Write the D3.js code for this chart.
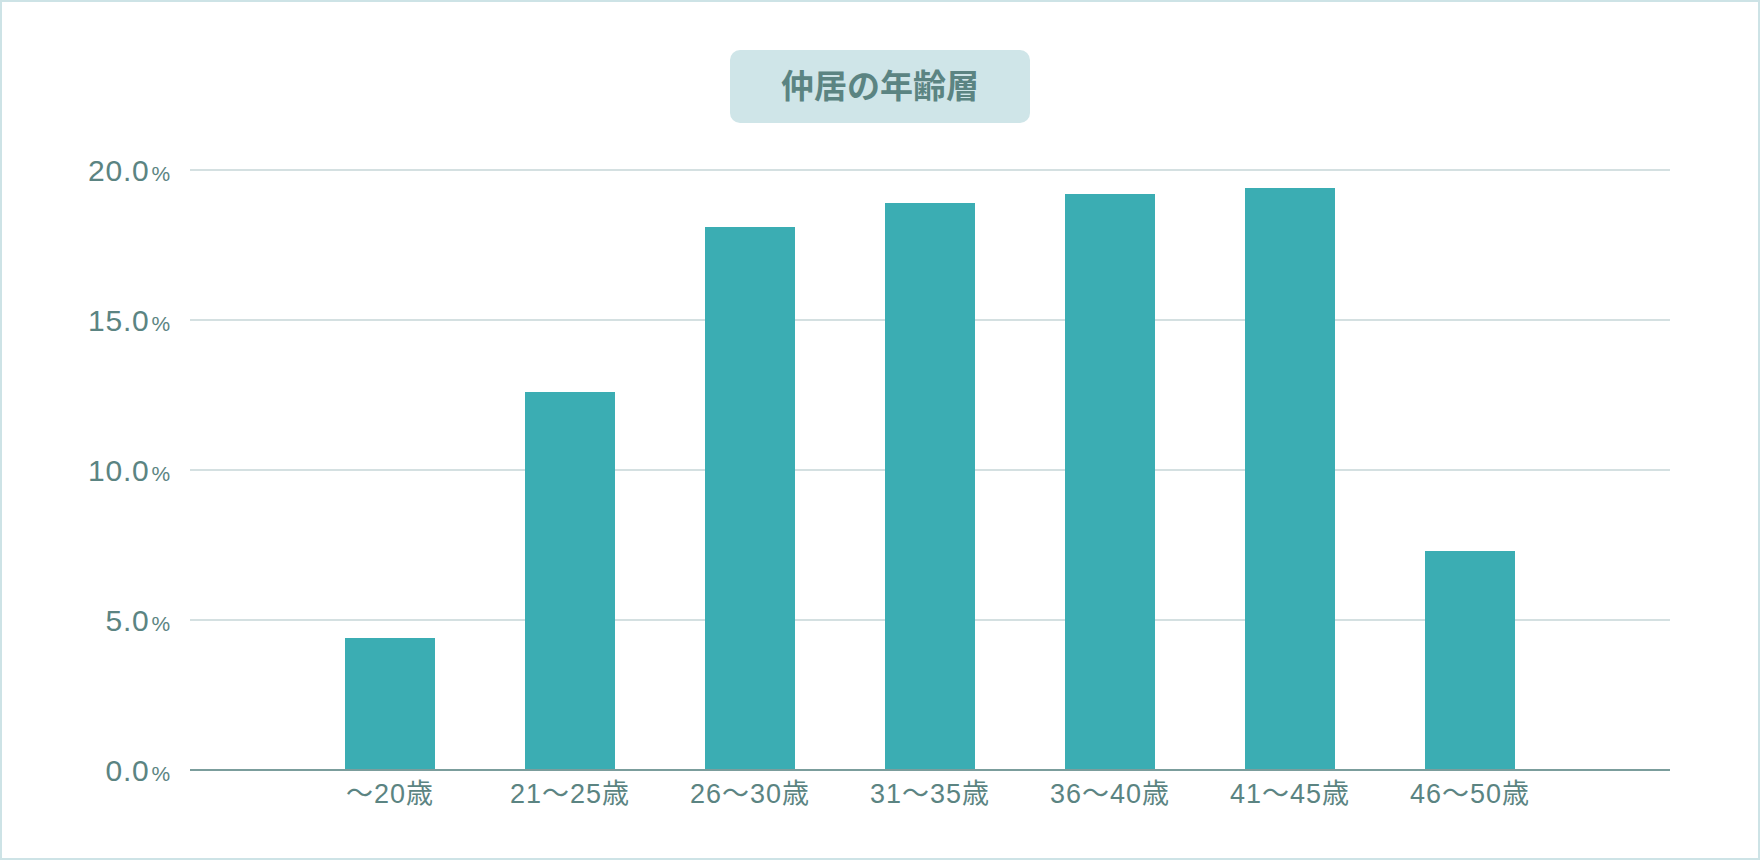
<!DOCTYPE html>
<html><head><meta charset="utf-8">
<script src="https://cdn.jsdelivr.net/npm/d3@7"></script>
<style>
html,body{margin:0;padding:0;background:#fff;}
svg{display:block;}
</style></head>
<body>
<script>
const categories = ["〜20歳","21〜25歳","26〜30歳","31〜35歳","36〜40歳","41〜45歳","46〜50歳"];
const values = [4.4, 12.6, 18.1, 18.9, 19.2, 19.4, 7.3];
const yTicks = [0, 5, 10, 15, 20];
const title = "仲居の年齢層";

const W = 1760, H = 860;
const font = "'Liberation Sans', Arial, 'Noto Sans CJK JP', sans-serif";
const labelColor = "#5b8482";

const svg = d3.select("body").append("svg").attr("width", W).attr("height", H);

// outer border
svg.append("rect").attr("x",1).attr("y",1).attr("width",W-2).attr("height",H-2)
  .attr("fill","#fff").attr("stroke","#cde3e6").attr("stroke-width",2);

const x = d3.scaleBand().domain(categories).range([300,1560]).paddingInner(0.5).paddingOuter(0.25);
const y = d3.scaleLinear().domain([0,20]).range([770,170]);

// gridlines
svg.append("g").selectAll("line").data(yTicks.filter(d=>d>0)).join("line")
  .attr("x1",190).attr("x2",1670)
  .attr("y1",d=>y(d)).attr("y2",d=>y(d))
  .attr("stroke","#d4e0e1").attr("stroke-width",2);

// bars
svg.append("g").selectAll("rect").data(values).join("rect")
  .attr("x",(d,i)=>x(categories[i]))
  .attr("width",x.bandwidth())
  .attr("y",d=>y(d))
  .attr("height",d=>y(0)-y(d))
  .attr("fill","#3badb3");

// baseline axis
svg.append("line").attr("x1",190).attr("x2",1670).attr("y1",y(0)).attr("y2",y(0))
  .attr("stroke","#7b9d9c").attr("stroke-width",2);

// y labels
const yl = svg.append("g").selectAll("text").data(yTicks).join("text")
  .attr("x",171).attr("y",d=>y(d)+11)
  .attr("text-anchor","end")
  .attr("font-family",font).attr("fill",labelColor)
  .attr("font-size",30).attr("letter-spacing",0.8);
yl.append("tspan").text(d=>d3.format(".1f")(d));
yl.append("tspan").attr("font-size",21).attr("dx",2).text("%");

// x labels
svg.append("g").selectAll("text").data(categories).join("text")
  .attr("x",d=>x(d)+x.bandwidth()/2).attr("y",803)
  .attr("text-anchor","middle")
  .attr("font-family",font).attr("fill",labelColor)
  .attr("font-size",27).attr("letter-spacing",1)
  .text(d=>d);

// title box
svg.append("rect").attr("x",730).attr("y",50).attr("width",300).attr("height",73)
  .attr("rx",10).attr("ry",10).attr("fill","#cfe5e8");
svg.append("text").attr("x",880).attr("y",98).attr("text-anchor","middle")
  .attr("font-family","'Noto Sans CJK JP', sans-serif").attr("font-weight","bold")
  .attr("font-size",33).attr("fill","#5b8482").text(title);
</script>
</body></html>
